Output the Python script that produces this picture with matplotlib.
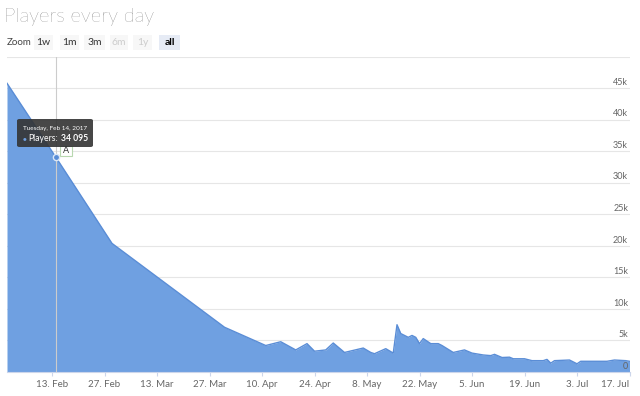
#!/usr/bin/env python3
import matplotlib
matplotlib.use("Agg")
import matplotlib.pyplot as plt
import matplotlib.dates as mdates
import matplotlib.transforms as mtransforms
from matplotlib.patches import FancyBboxPatch, Rectangle
import numpy as np

# daily players (sparse early on)
dates = [
    "2017-02-01", "2017-02-14", "2017-03-01", "2017-03-31", "2017-04-11",
    "2017-04-15", "2017-04-19", "2017-04-22", "2017-04-24", "2017-04-27",
    "2017-04-29", "2017-05-02", "2017-05-07", "2017-05-09", "2017-05-10",
    "2017-05-13", "2017-05-15", "2017-05-16", "2017-05-17", "2017-05-19",
    "2017-05-20", "2017-05-21", "2017-05-22", "2017-05-23", "2017-05-25",
    "2017-05-27", "2017-05-28", "2017-05-31", "2017-06-03", "2017-06-05",
    "2017-06-08", "2017-06-10", "2017-06-11", "2017-06-13", "2017-06-15",
    "2017-06-16", "2017-06-19", "2017-06-21", "2017-06-24", "2017-06-25",
    "2017-06-26", "2017-06-27", "2017-07-01", "2017-07-03", "2017-07-04",
    "2017-07-08", "2017-07-11", "2017-07-13", "2017-07-16", "2017-07-17",
]
players = [
    45800, 34095, 20400, 7100, 4200,
    4800, 3500, 4500, 3300, 3500,
    4600, 3100, 3800, 3100, 2900,
    3700, 3000, 7500, 6100, 5500,
    5800, 5500, 4500, 5300, 4500,
    4500, 4200, 3100, 3500, 3000,
    2700, 2600, 2800, 2300, 2350,
    2100, 2100, 1800, 1800, 2000,
    1400, 1800, 1900, 1300, 1700,
    1700, 1700, 1900, 1800, 1700,
]

x_ticks = ["2017-02-13", "2017-02-27", "2017-03-13", "2017-03-27", "2017-04-10", "2017-04-24",
           "2017-05-08", "2017-05-22", "2017-06-05", "2017-06-19", "2017-07-03", "2017-07-17"]
x_tick_labels = ["13. Feb", "27. Feb", "13. Mar", "27. Mar", "10. Apr", "24. Apr",
                 "8. May", "22. May", "5. Jun", "19. Jun", "3. Jul", "17. Jul"]
y_ticks = [0, 5000, 10000, 15000, 20000, 25000, 30000, 35000, 40000, 45000, 50000]
y_tick_labels = ["0", "5k", "10k", "15k", "20k", "25k", "30k", "35k", "40k", "45k", ""]

zoom_buttons = ["1w", "1m", "3m", "6m", "1y", "all"]

tooltip_date = "2017-02-14"
tooltip_title = "Tuesday, Feb 14, 2017"
tooltip_value = 34095

W, H = 640, 396
FILL = "#6fa0e1"
EDGE = "#5a8dd6"


def fx(x: float) -> float:
    return x / W


def fy(y: float) -> float:
    return 1 - y / H


def main() -> None:
    plt.rcParams["font.family"] = ["Lato", "DejaVu Sans"]
    fig = plt.figure(figsize=(W / 100, H / 100), dpi=100)
    fig.patch.set_facecolor("white")

    # header
    fig.text(fx(4), fy(22), "Players every day", fontsize=14.5, color="#555555",
             fontweight="light", va="baseline", ha="left")
    fig.text(fx(7), fy(42.5), "Zoom", fontsize=7, color="#444444", va="center", ha="left")
    boxes = [(34, 53), (60, 79), (84, 105), (110, 128), (133, 152), (159, 180)]
    for label, (x0, x1) in zip(zoom_buttons, boxes):
        selected = label == "all"
        disabled = label in ("6m", "1y")
        bg = "#e6ebf5" if selected else "#f7f7f7"
        fig.patches.append(Rectangle((fx(x0), fy(50)), fx(x1 - x0), (50 - 35) / H,
                                     transform=fig.transFigure, facecolor=bg,
                                     edgecolor="none", zorder=0))
        color = "#cccccc" if disabled else ("#000000" if selected else "#333333")
        fig.text(fx((x0 + x1) / 2), fy(42.5), label, fontsize=7.5, color=color,
                 fontweight="bold" if selected else "normal", ha="center", va="center")

    ax = fig.add_axes([fx(7), fy(372), (629.5 - 7) / W, (372 - 56.8) / H])
    ax.set_facecolor("white")

    x = mdates.date2num(np.array(dates, dtype="datetime64[D]"))
    y = np.array(players, dtype=float)
    ax.fill_between(x, y, 0, color=FILL, linewidth=0, zorder=2)
    ax.plot(x, y, color=EDGE, linewidth=1.0, zorder=3)

    ax.set_xlim(mdates.date2num(np.datetime64(dates[0])), mdates.date2num(np.datetime64(dates[-1])))
    ax.set_ylim(y_ticks[0], y_ticks[-1])

    for sp in ("top", "left", "right"):
        ax.spines[sp].set_visible(False)
    ax.spines["bottom"].set_color("#ccd6eb")
    ax.spines["bottom"].set_linewidth(0.8)
    ax.spines["bottom"].set_zorder(4)

    xt = mdates.date2num(np.array(x_ticks, dtype="datetime64[D]"))
    ax.set_xticks(xt)
    ax.set_xticklabels(x_tick_labels, fontsize=7, color="#666666")
    ax.get_xticklabels()[-1].set_horizontalalignment("right")
    ax.tick_params(axis="x", length=3, width=0.8, color="#ccd6eb", pad=3)

    ax.set_yticks(y_ticks)
    ax.set_yticklabels([])
    ax.tick_params(axis="y", length=0)
    ax.yaxis.grid(True, color="#e6e6e6", linewidth=0.8, zorder=0)
    ax.set_axisbelow(True)
    trans = mtransforms.blended_transform_factory(ax.transAxes, ax.transData)
    for v, lab in zip(y_ticks, y_tick_labels):
        if lab:
            ax.annotate(lab, (1.0, v), xycoords=trans, xytext=(-1, 1), textcoords="offset points",
                        fontsize=6.5, color="#666666", ha="right", va="bottom", zorder=5)

    # crosshair + hovered point
    tx = mdates.date2num(np.datetime64(tooltip_date))
    ax.axvline(tx, color="#cccccc", linewidth=0.8, zorder=4)
    ax.plot([tx], [tooltip_value], marker="o", markersize=4.5, markerfacecolor=EDGE,
            markeredgecolor="#dbe7f7", markeredgewidth=1.0, zorder=6, clip_on=False)

    # flag "A"
    fig.patches.append(Rectangle((fx(60), fy(156)), fx(12), 10 / H, transform=fig.transFigure,
                                 facecolor="white", edgecolor="#b8d8b0", linewidth=0.8, zorder=7))
    fig.text(fx(66), fy(151), "A", fontsize=6.5, color="#333333", ha="center", va="center", zorder=8)

    # tooltip
    fig.patches.append(FancyBboxPatch((fx(17), fy(147)), fx(76), 28 / H,
                                      boxstyle="round,pad=0,rounding_size=0.004",
                                      transform=fig.transFigure, facecolor="#333333",
                                      edgecolor="none", alpha=0.9, zorder=9))
    fig.text(fx(23), fy(128), tooltip_title, fontsize=4.6, color="white", ha="left", va="center", zorder=10)
    fig.text(fx(23), fy(138.5), "\u25cf", fontsize=4.5, color=FILL, ha="left", va="center", zorder=10)
    fig.text(fx(28.5), fy(138.5), "Players:", fontsize=6.2, color="white", ha="left", va="center", zorder=10)
    value_txt = f"{tooltip_value:,}".replace(",", " ")
    fig.text(fx(61), fy(138.5), value_txt, fontsize=6.2, color="white", fontweight="bold",
             ha="left", va="center", zorder=10)

    fig.savefig("out.png", dpi=100)


if __name__ == "__main__":
    main()
